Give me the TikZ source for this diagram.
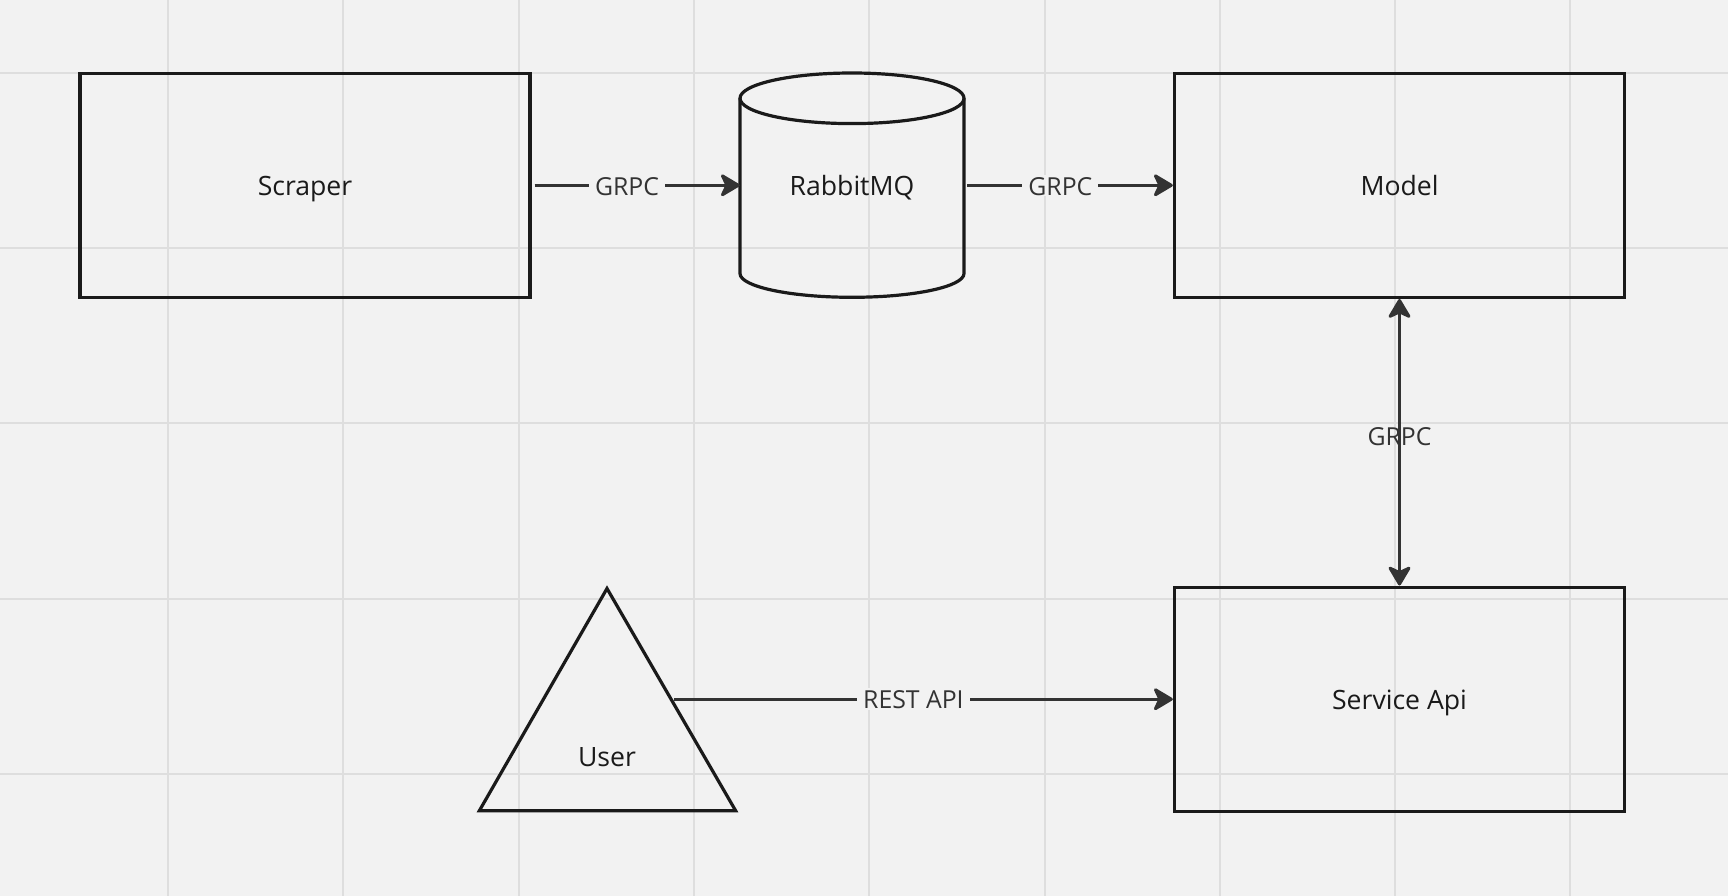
\documentclass[tikz,border=0pt]{standalone}
\usepackage{fontspec}
\setmainfont{Open Sans}
\usetikzlibrary{arrows.meta}
\definecolor{bg}{HTML}{F2F2F2}
\definecolor{gridc}{HTML}{DEDEDE}
\definecolor{ink}{HTML}{1A1A1A}
\definecolor{arr}{HTML}{333333}
\begin{document}
\begin{tikzpicture}[x=1pt,y=-1pt,
  >={Stealth[length=22pt,width=26pt,inset=6pt,round]},
  box/.style={draw=ink, line width=3.4pt, minimum width=450pt, minimum height=224pt, inner sep=0pt, font=\fontsize{26.6}{30}\selectfont, text=ink, text height=20.4pt, text depth=0pt},
  shapeline/.style={draw=ink, line width=3.2pt, line join=round},
  plain/.style={inner sep=0pt, font=\fontsize{26.6}{30}\selectfont, text=ink, text height=20.4pt, text depth=0pt},
  conn/.style={draw=arr, line width=3pt},
  lbl/.style={fill=bg, inner xsep=6pt, inner ysep=1pt, font=\fontsize{24.8}{28}\selectfont, text=arr, text height=19.5pt, text depth=0pt},
  lblnofill/.style={inner sep=0pt, font=\fontsize{24.8}{28}\selectfont, text=arr, text height=19.5pt, text depth=0pt},
  gridline/.style={draw=gridc, line width=2pt}
]
\fill[bg] (0,0) rectangle (1728,896);
\useasboundingbox (0,0) rectangle (1728,896);
% grid
\foreach \i in {0,...,8} \draw[gridline] ({168+175.3*\i},0) -- ({168+175.3*\i},896);
\foreach \j in {0,...,4} \draw[gridline] (0,{72.7+175.3*\j}) -- (1728,{72.7+175.3*\j});

% boxes
\node[box] (scraper) at (305,185.3) {Scraper};
\node[box] (model) at (1399.5,185.3) {Model};
\node[box] (service) at (1399.5,699.2) {Service Api};

% cylinder
\node[plain, minimum width=224pt, minimum height=224pt] (rmq) at (852,185.3) {RabbitMQ};
\draw[shapeline] (852,98.3) ellipse [x radius=112pt, y radius=25.3pt];
\draw[shapeline] (740,98.3) -- (740,273.5) arc[start angle=180, end angle=360, x radius=112pt, y radius=23.8pt] -- (964,98.3);

% user triangle
\draw[shapeline, line join=miter] (607,588.5) -- (735.7,810.8) -- (479.3,810.8) -- cycle;
\node[plain] (user) at (607,756) {User};
\coordinate (userR) at (674,699.2);

% connectors
\draw[conn,->] ([xshift=3pt]scraper.east) -- node[lbl, pos=0.45] (l1) {GRPC} (rmq.west);
\draw[conn,->] ([xshift=3pt]rmq.east) -- node[lbl, pos=0.453] (l2) {GRPC} (model.west);
\draw[conn,<->] (model.south) -- node[lblnofill, pos=0.476] (l3) {GRPC} (service.north);
\draw[conn,->] (userR) -- node[lbl, pos=0.48] (l4) {REST API} (service.west);
\end{tikzpicture}
\end{document}
